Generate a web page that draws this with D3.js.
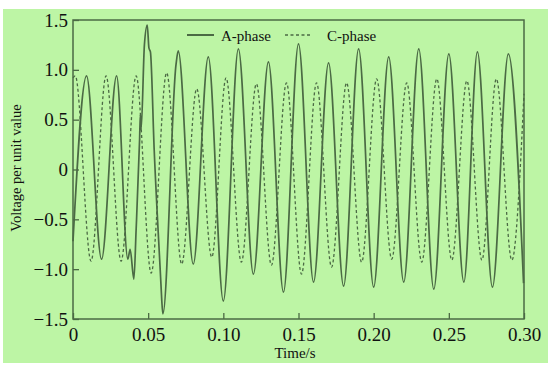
<!DOCTYPE html>
<html>
<head>
<meta charset="utf-8">
<script src="https://cdn.jsdelivr.net/npm/d3@7"></script>
<style>
  body { margin: 0; background: #fff; }
  text { font-family: "Liberation Serif", "Times New Roman", serif; fill: #111; }
</style>
</head>
<body>
<script>
// peaks / troughs (time in s, voltage in p.u.)
var aTime = [0, 0.009, 0.019, 0.029, 0.0365, 0.038, 0.0405, 0.042, 0.0443, 0.0448, 0.0453,
  0.0475, 0.0494, 0.0505, 0.0515, 0.054, 0.0585, 0.059, 0.0598, 0.0685, 0.070,
  0.080, 0.090, 0.100, 0.110, 0.120, 0.130, 0.140, 0.150, 0.160, 0.170, 0.180, 0.190,
  0.200, 0.210, 0.220, 0.230, 0.240, 0.250, 0.260, 0.269, 0.279, 0.2896, 0.2997];
var aVolt = [-0.72, 0.94, -0.9, 0.94, -0.9, -0.8, -1.1, -0.6, 0.3, 0.55, 0.4,
  1.25, 1.45, 1.22, 1.18, 0.2, -1.15, -1.3, -1.45, 1.05, 1.19,
  -0.95, 1.13, -1.32, 1.21, -1.05, 1.08, -1.23, 1.26, -1.13, 1.07, -1.17, 1.21,
  -1.18, 1.13, -1.13, 1.21, -1.2, 1.16, -1.13, 1.18, -1.18, 1.16, -1.14];

var cTime = [0, 0.0015, 0.012, 0.022, 0.032, 0.042, 0.052, 0.0623, 0.0723, 0.0823, 0.0923,
  0.1018, 0.112, 0.122, 0.132, 0.142, 0.152, 0.162, 0.172, 0.182, 0.192,
  0.202, 0.212, 0.222, 0.232, 0.242, 0.252, 0.262, 0.272, 0.2816, 0.2919, 0.30];
var cVolt = [0.92, 0.94, -0.92, 0.94, -0.92, 0.94, -1.04, 0.97, -0.95, 0.81, -0.88,
  0.92, -0.93, 0.86, -0.96, 0.87, -1.05, 0.87, -0.98, 0.87, -0.93,
  0.91, -0.9, 0.87, -0.93, 0.91, -0.91, 0.89, -0.91, 0.91, -0.91, 0.76];

var xTicks = [0, 0.05, 0.10, 0.15, 0.20, 0.25, 0.30];
var yTicks = [-1.5, -1.0, -0.5, 0, 0.5, 1.0, 1.5];
var seriesNames = ["A-phase", "C-phase"];

var width = 548, height = 368;
var plotL = 73, plotR = 524, plotT = 20, plotB = 319;
var ink = "#4b6a44";

var svg = d3.select("body").append("svg")
    .attr("width", width)
    .attr("height", height);

// green panel
svg.append("rect")
    .attr("x", 3).attr("y", 9)
    .attr("width", width - 3).attr("height", 354)
    .attr("fill", "#bdf5a5");

var x = d3.scaleLinear().domain([0, 0.30]).range([plotL, plotR]);
var y = d3.scaleLinear().domain([-1.5, 1.5]).range([plotB, plotT]);

var line = d3.line()
    .x(function(d) { return x(d[0]); })
    .y(function(d) { return y(d[1]); })
    .curve(d3.curveMonotoneX);

var aData = d3.zip(aTime, aVolt);
var cData = d3.zip(cTime, cVolt);

svg.append("path")
    .datum(cData)
    .attr("d", line)
    .attr("fill", "none")
    .attr("stroke", ink)
    .attr("stroke-width", 1.3)
    .attr("stroke-dasharray", "3,2.5");

svg.append("path")
    .datum(aData)
    .attr("d", line)
    .attr("fill", "none")
    .attr("stroke", ink)
    .attr("stroke-width", 1.7);

// axes, ticks inward
var fmtY = function(d) { return d === 0 ? "0" : d3.format(".1f")(d); };
var fmtX = function(d) { return d === 0 ? "0" : d3.format(".2f")(d); };

var gx = svg.append("g")
    .attr("transform", "translate(0," + plotB + ")")
    .call(d3.axisBottom(x).tickValues(xTicks).tickFormat(fmtX).tickSize(-6).tickPadding(9));
var gy = svg.append("g")
    .attr("transform", "translate(" + plotL + ",0)")
    .call(d3.axisLeft(y).tickValues(yTicks).tickFormat(fmtY).tickSize(-6).tickPadding(5));

[gx, gy].forEach(function(g) {
  g.select(".domain").remove();
  g.selectAll(".tick line").attr("stroke", ink).attr("stroke-width", 1.3);
  g.selectAll(".tick text")
      .attr("fill", "#111")
      .style("font-family", '"Liberation Serif", "Times New Roman", serif')
      .style("font-size", "19px");
});

// frame
svg.append("rect")
    .attr("x", plotL).attr("y", plotT)
    .attr("width", plotR - plotL).attr("height", plotB - plotT)
    .attr("fill", "none")
    .attr("stroke", ink)
    .attr("stroke-width", 1.5);

// axis titles
svg.append("text")
    .attr("x", 295).attr("y", 358)
    .attr("text-anchor", "middle")
    .style("font-size", "15px")
    .text("Time/s");

svg.append("text")
    .attr("transform", "translate(21,168) rotate(-90)")
    .attr("text-anchor", "middle")
    .style("font-size", "14.5px")
    .text("Voltage per unit value");

// legend
var legend = svg.append("g");
var legX = [187, 285];
var textX = [221, 327];
legend.selectAll("line")
    .data(seriesNames)
  .enter().append("line")
    .attr("x1", function(d, i) { return legX[i]; })
    .attr("x2", function(d, i) { return legX[i] + 27; })
    .attr("y1", 35).attr("y2", 35)
    .attr("stroke", ink)
    .attr("stroke-width", function(d, i) { return i === 0 ? 2 : 1.4; })
    .attr("stroke-dasharray", function(d, i) { return i === 0 ? null : "3,2.5"; });
legend.selectAll("text")
    .data(seriesNames)
  .enter().append("text")
    .attr("x", function(d, i) { return textX[i]; })
    .attr("y", 41)
    .style("font-size", "15px")
    .text(function(d) { return d; });
</script>
</body>
</html>
